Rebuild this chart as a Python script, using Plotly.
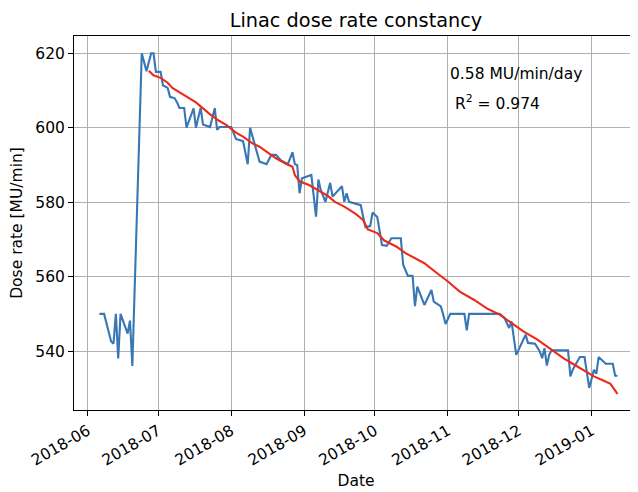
import plotly.graph_objects as go

dates = [
    "2018-06-06", "2018-06-08", "2018-06-11", "2018-06-12", "2018-06-13",
    "2018-06-14", "2018-06-15", "2018-06-18", "2018-06-19", "2018-06-20",
    "2018-06-24", "2018-06-26", "2018-06-28", "2018-06-29", "2018-06-30",
    "2018-07-02", "2018-07-03", "2018-07-05", "2018-07-06", "2018-07-08",
    "2018-07-09", "2018-07-10", "2018-07-12", "2018-07-13", "2018-07-16",
    "2018-07-17", "2018-07-19", "2018-07-20", "2018-07-23", "2018-07-25",
    "2018-07-26", "2018-07-27", "2018-08-01", "2018-08-03", "2018-08-06",
    "2018-08-08", "2018-08-09", "2018-08-11", "2018-08-13", "2018-08-16",
    "2018-08-18", "2018-08-20", "2018-08-22", "2018-08-25", "2018-08-27",
    "2018-08-28", "2018-08-29", "2018-08-30", "2018-08-31", "2018-09-04",
    "2018-09-06", "2018-09-07", "2018-09-08", "2018-09-10", "2018-09-12",
    "2018-09-13", "2018-09-15", "2018-09-17", "2018-09-18", "2018-09-19",
    "2018-09-20", "2018-09-22", "2018-09-25", "2018-09-26", "2018-09-27",
    "2018-09-29", "2018-09-30", "2018-10-02", "2018-10-03", "2018-10-04",
    "2018-10-06", "2018-10-08", "2018-10-12", "2018-10-13", "2018-10-15",
    "2018-10-17", "2018-10-18", "2018-10-19", "2018-10-22", "2018-10-25",
    "2018-10-26", "2018-10-29", "2018-10-30", "2018-10-31", "2018-11-02",
    "2018-11-08", "2018-11-09", "2018-11-10", "2018-11-23", "2018-11-25",
    "2018-11-27", "2018-11-28", "2018-11-30", "2018-12-04", "2018-12-05",
    "2018-12-08", "2018-12-10", "2018-12-11", "2018-12-12", "2018-12-13",
    "2018-12-14", "2018-12-15", "2018-12-22", "2018-12-23", "2018-12-24",
    "2018-12-27", "2018-12-29", "2018-12-31", "2019-01-02", "2019-01-03",
    "2019-01-04", "2019-01-07", "2019-01-10", "2019-01-11", "2019-01-12",
]
dose_rate = [
    550, 550, 542.6, 542, 550,
    538, 550, 544.7, 548.2, 536,
    620, 615.2, 620, 620, 615,
    615, 611.4, 610.7, 608.3, 607.9,
    606.8, 605.3, 605.3, 600, 605.2,
    600, 605.3, 600.9, 600.2, 605.3,
    599.4, 600.2, 600.2, 597, 596.4,
    590.2, 600, 595.3, 590.9, 590.2,
    592.7, 592.7, 591.3, 590.2, 593.4,
    590.2, 590, 582.4, 586.4, 587.3,
    576.1, 586.1, 583.3, 580.1, 585.2,
    581.5, 582.8, 584.3, 580.1, 582.4,
    580.1, 579.7, 579.2, 576.1, 573.3,
    573.6, 577.2, 576, 572.5, 568.5,
    568.3, 570.3, 570.3, 563.2, 560.2,
    560.2, 552.1, 557.3, 552.4, 556.4,
    553.3, 552, 549.8, 547.3, 550,
    550, 545.6, 550, 550, 548.9,
    546.2, 548, 539, 544.4, 542.2,
    542, 539.9, 538.1, 540.8, 536.1,
    539, 540.2, 540.2, 533.2, 535,
    538.4, 538.4, 530.1, 535, 533.9,
    538.4, 536.6, 536.6, 533.4, 533.4,
]

# Fitted trend (red)
fit_dates = [
    "2018-06-27", "2018-06-29", "2018-07-02", "2018-07-05", "2018-07-07",
    "2018-07-10", "2018-07-14", "2018-07-17", "2018-07-20", "2018-07-23",
    "2018-07-27", "2018-07-30", "2018-08-03", "2018-08-06", "2018-08-10",
    "2018-08-13", "2018-08-17", "2018-08-20", "2018-08-24", "2018-08-27",
    "2018-08-28", "2018-08-30", "2018-09-03", "2018-09-07", "2018-09-11",
    "2018-09-14", "2018-09-18", "2018-09-23", "2018-09-26", "2018-09-28",
    "2018-10-02", "2018-10-05", "2018-10-10", "2018-10-14", "2018-10-18",
    "2018-10-22", "2018-10-27", "2018-11-01", "2018-11-06", "2018-11-12",
    "2018-11-18", "2018-11-23", "2018-11-29", "2018-12-03", "2018-12-09",
    "2018-12-15", "2018-12-20", "2018-12-24", "2018-12-29", "2019-01-02",
    "2019-01-06", "2019-01-09", "2019-01-12",
]
fit_rate = [
    615.3, 614.1, 613.4, 612.1, 610.7,
    609.5, 607.9, 606.8, 605.2, 603.6,
    601.8, 600.7, 598.7, 597.6, 595.8,
    594.9, 593.1, 591.8, 590.4, 589.5,
    587.3, 585.6, 584.6, 583.1, 581.7,
    580.1, 578.8, 576.8, 575.2, 572.7,
    571.7, 569.7, 568.1, 566.3, 565.0,
    563.6, 561.1, 558.7, 556.0, 553.8,
    551.3, 549.8, 547.1, 545.3, 543.1,
    540.4, 538.1, 536.6, 534.6, 533.2,
    532.1, 531.2, 528.5,
]

slope_text = "0.58 MU/min/day"
r2_text = "R<sup>2</sup> = 0.974"

fig = go.Figure()
fig.add_trace(go.Scatter(x=dates, y=dose_rate, mode="lines",
                         line=dict(color="#3777b3", width=2.1)))
fig.add_trace(go.Scatter(x=fit_dates, y=fit_rate, mode="lines",
                         line=dict(color="#ec2a1c", width=2.1)))

font = dict(family="DejaVu Sans", size=15.5, color="black")

fig.add_annotation(xref="paper", yref="paper", x=0.663, y=0.898,
                   xanchor="left", yanchor="middle", showarrow=False,
                   text=slope_text, font=font)
fig.add_annotation(xref="paper", yref="paper", x=0.672, y=0.823,
                   xanchor="left", yanchor="middle", showarrow=False,
                   text=r2_text, font=font)

# page body adds an 8px offset, so the figure is 8px smaller than the window
fig.update_layout(
    width=630, height=484,
    margin=dict(l=66, r=0, t=28, b=82),
    paper_bgcolor="white", plot_bgcolor="white",
    showlegend=False,
    font=font,
    title=dict(text="Linac dose rate constancy", x=0.5, xref="paper",
               y=0.975, yref="container", xanchor="center", yanchor="middle",
               font=dict(family="DejaVu Sans", size=19.3, color="black")),
)
fig.update_xaxes(
    type="date",
    range=["2018-05-26 05:30", "2019-01-20 17:00"],
    tick0="2018-06-01", dtick="M1", tickformat="%Y-%m", tickangle=-30,
    ticks="outside", ticklen=5, tickwidth=1, tickcolor="black",
    showline=True, linecolor="black", linewidth=1, mirror=True,
    showgrid=True, gridcolor="#b0b0b0", gridwidth=1,
    zeroline=False,
    title=dict(text="Date", standoff=6, font=font),
    tickfont=font,
)
fig.update_yaxes(
    range=[524.18, 624.64],
    tick0=540, dtick=20,
    ticks="outside", ticklen=5, tickwidth=1, tickcolor="black",
    showline=True, linecolor="black", linewidth=1, mirror=False,
    showgrid=True, gridcolor="#b0b0b0", gridwidth=1,
    zeroline=False,
    title=dict(text="Dose rate [MU/min]", standoff=8, font=font),
    tickfont=font,
)

fig.write_html("out.html")
